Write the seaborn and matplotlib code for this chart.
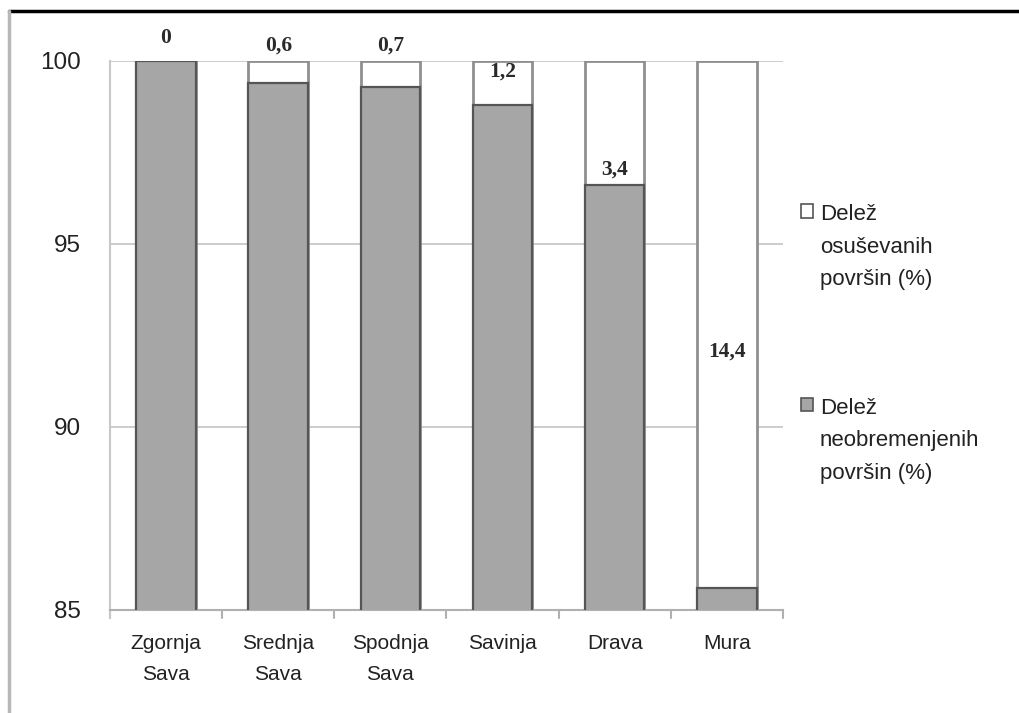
import matplotlib
matplotlib.use('Agg')
import matplotlib.pyplot as plt
from matplotlib.patches import Patch
from matplotlib.lines import Line2D
import seaborn as sns

# data
rivers = ['Zgornja\nSava', 'Srednja\nSava', 'Spodnja\nSava', 'Savinja', 'Drava', 'Mura']
drained = [0.0, 0.6, 0.7, 1.2, 3.4, 14.4]          # Delež osuševanih površin (%)
unburdened = [100 - d for d in drained]            # Delež neobremenjenih površin (%)
drained_labels = ['0', '0,6', '0,7', '1,2', '3,4', '14,4']
label_y = [100.63, 100.41, 100.41, 99.70, 97.02, 92.05]
yticks = [85, 90, 95, 100]

sns.set_style('white')
plt.rcParams['font.family'] = ['Liberation Sans', 'DejaVu Sans']

fig = plt.figure(figsize=(10.2, 7.13), dpi=100)
ax = fig.add_axes([0.1078, 0.1445, 0.6598, 0.7700])

totals = [u + d for u, d in zip(unburdened, drained)]
sns.barplot(x=rivers, y=totals, color='white', edgecolor='#8f8f8f',
            linewidth=2, width=0.53, saturation=1, ax=ax, zorder=2)
sns.barplot(x=rivers, y=unburdened, color='#a6a6a6', edgecolor='#555555',
            linewidth=1.6, width=0.53, saturation=1, ax=ax, zorder=3)

ax.set_ylim(85, 100)
ax.set_xlim(-0.5, len(rivers) - 0.5)
ax.set_yticks(yticks)
ax.set_yticklabels([str(t) for t in yticks], fontsize=17.5, color='#222222')
ax.yaxis.grid(True, color='#c8c8c8', linewidth=1.3, zorder=0)
ax.set_axisbelow(True)
ax.tick_params(axis='y', length=0, pad=21)
ax.tick_params(axis='x', length=0, pad=17, labelsize=15, labelcolor='#222222')
for t in ax.get_xticklabels():
    t.set_linespacing(1.8)
for s in ['top', 'right']:
    ax.spines[s].set_visible(False)
ax.spines['left'].set_color('#c8c8c8')
ax.spines['left'].set_linewidth(1.5)
ax.spines['bottom'].set_color('#b0b0b0')
ax.spines['bottom'].set_linewidth(1.5)

# category separator ticks below the x axis
for i in range(len(rivers) + 1):
    ax.plot([i - 0.5, i - 0.5], [85, 84.78], color='#b0b0b0', lw=1.5,
            clip_on=False, zorder=1)
ax.plot([-0.5, -0.5], [85, 84.78], color='#c8c8c8', lw=1.5, clip_on=False)

# data labels
for i, (lab, y) in enumerate(zip(drained_labels, label_y)):
    ax.text(i, y, lab, ha='center', va='center', fontsize=15.5,
            family='Liberation Serif', fontweight='bold', color='#2a2a2a',
            zorder=5, clip_on=False)

# legend
handles = [Patch(facecolor='white', edgecolor='#555555', linewidth=1.2),
           Patch(facecolor='#a6a6a6', edgecolor='#555555', linewidth=1.2)]
labels = ['Delež\nosuševanih\npovršin (%)', 'Delež\nneobremenjenih\npovršin (%)']
leg = fig.legend(handles, labels, loc='upper left', bbox_to_anchor=(0.7745, 0.7293),
                 frameon=False, fontsize=16, handlelength=0.55, handleheight=0.55,
                 handletextpad=0.3, labelspacing=4.85, borderpad=0)
for t in leg.get_texts():
    t.set_linespacing(1.72)
    t.set_color('#222222')
for col in leg._legend_handle_box.get_children():
    for hp in col.get_children():
        hp.align = 'top'

# outer frame of the original picture
fig.add_artist(Line2D([0.009, 1.0], [0.9846, 0.9846], color='black', lw=2.5))
fig.add_artist(Line2D([0.009, 0.009], [0.0, 0.9846], color='#b8b8b8', lw=2.5))

fig.savefig('out.png', dpi=100)
